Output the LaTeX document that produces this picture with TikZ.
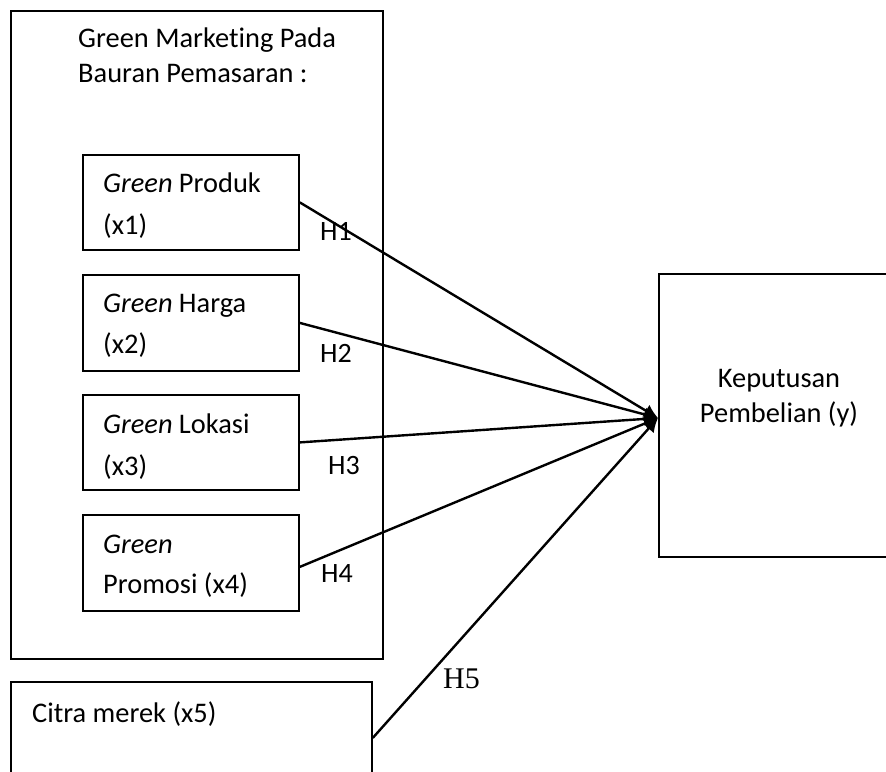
\documentclass[tikz,border=0pt]{standalone}
\usepackage{fontspec}
\setmainfont{Carlito}[Ligatures=NoCommon]
\newfontfamily\timesf{Liberation Serif}
\usetikzlibrary{arrows.meta}
\tikzset{
  box/.style={draw, line width=1.8pt, rectangle, inner sep=0pt, anchor=north west},
  txt/.style={anchor=base west, inner sep=0pt, font=\fontsize{28.4}{28.4}\selectfont},
  hlab/.style={anchor=base west, inner sep=0pt, font=\fontsize{28}{28}\selectfont},
  conn/.style={line width=2.4pt, -{Latex[length=14pt,width=14pt]}}
}
\begin{document}
\begin{tikzpicture}[x=1pt,y=-1pt]
\useasboundingbox (0,0) rectangle (886,771);
% outer group box
\node[box, minimum width=372pt, minimum height=648pt] (outer) at (10,10) {};
\node[txt] (t0a) at (78,47) {Green Marketing Pada};
\node[txt] (t0b) at (78,82) {Bauran Pemasaran :};
% inner boxes
\node[box, minimum width=216pt, minimum height=95pt] (b1) at (82,154) {};
\node[box, minimum width=216pt, minimum height=96pt] (b2) at (82,274) {};
\node[box, minimum width=216pt, minimum height=95pt] (b3) at (82,394) {};
\node[box, minimum width=216pt, minimum height=96pt] (b4) at (82,514) {};
\node[txt] (t1a) at (103,192) {\textit{Green} Produk};
\node[txt] (t1b) at (103,234) {(x1)};
\node[txt] (t2a) at (103,312) {\textit{Green} Harga};
\node[txt] (t2b) at (103,353) {(x2)};
\node[txt] (t3a) at (103,433) {\textit{Green} Lokasi};
\node[txt] (t3b) at (103,475) {(x3)};
\node[txt] (t4a) at (103,553) {\textit{Green}};
\node[txt] (t4b) at (103,593) {Promosi (x4)};
% citra merek
\node[box, minimum width=361pt, minimum height=112pt] (b5) at (10,681) {};
\node[txt] (t5) at (32,722) {Citra merek (x5)};
% keputusan
\node[box, minimum width=240pt, minimum height=283pt] (kp) at (658,273) {};
\node[txt, anchor=base] (tk1) at (779,387) {Keputusan};
\node[txt, anchor=base] (tk2) at (779,422) {Pembelian (y)};
\coordinate (tip) at (658,418);
% connectors
\draw[conn] (b1.east) -- (tip);
\draw[conn] (b2.east) -- (tip);
\draw[conn] (b3.east) -- (tip);
\draw[conn] ([yshift=-4pt]b4.east) -- (tip);
\draw[conn] (b5.east) -- (tip);
% labels
\node[hlab] (h1) at (320,240) {H1};
\node[hlab] (h2) at (320,362) {H2};
\node[hlab] (h3) at (328,474) {H3};
\node[hlab] (h4) at (321,582) {H4};
\node[anchor=base west, inner sep=0pt, font=\timesf\fontsize{30}{30}\selectfont] (h5) at (443,688) {H5};
\end{tikzpicture}
\end{document}
